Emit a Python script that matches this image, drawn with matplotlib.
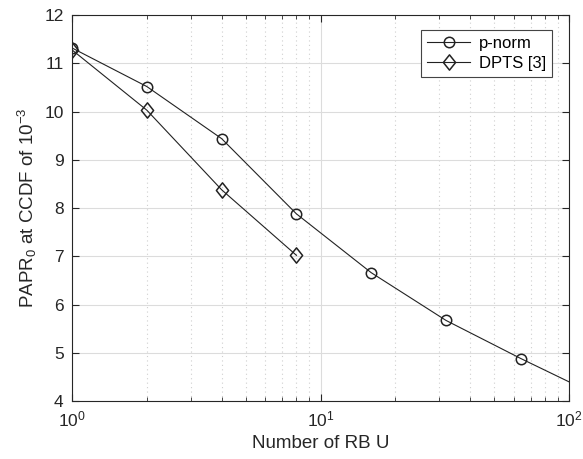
import matplotlib
matplotlib.use("Agg")
import matplotlib.pyplot as plt
from matplotlib.ticker import LogLocator, NullFormatter
from matplotlib.path import Path

plt.rcParams['font.family'] = ['Liberation Sans', 'DejaVu Sans']
plt.rcParams['mathtext.fontset'] = 'custom'
plt.rcParams['mathtext.rm'] = 'Liberation Sans'
plt.rcParams['mathtext.it'] = 'Liberation Sans'

pnorm_x = [1, 2, 4, 8, 16, 32, 64, 128]
pnorm_y = [11.32, 10.52, 9.44, 7.88, 6.66, 5.67, 4.88, 4.13]
dpts_x = [1, 2, 4, 8]
dpts_y = [11.28, 10.03, 8.38, 7.02]

diamond = Path([(0, 1), (0.8, 0), (0, -1), (-0.8, 0), (0, 1)],
               [Path.MOVETO, Path.LINETO, Path.LINETO, Path.LINETO, Path.CLOSEPOLY])

fig = plt.figure(figsize=(5.83, 4.59), dpi=100)
ax = fig.add_axes([0.1235, 0.1264, 0.8525, 0.8406])

ax.plot(pnorm_x, pnorm_y, '-o', color='#222222', lw=0.8, ms=7.5,
        mfc='none', mec='#222222', mew=1.1, label='p-norm', clip_on=True)
ax.plot(dpts_x, dpts_y, '-', marker=diamond, color='#222222', lw=0.8, ms=11,
        mfc='none', mec='#222222', mew=1.1, label='DPTS [3]')

ax.set_xscale('log')
ax.set_xlim(1, 100)
ax.set_ylim(4, 12)
ax.set_yticks(range(4, 13))
ax.xaxis.set_major_locator(LogLocator(base=10, numticks=5))
ax.xaxis.set_minor_locator(LogLocator(base=10, subs=range(2, 10), numticks=20))
ax.xaxis.set_minor_formatter(NullFormatter())

ax.grid(True, which='major', color='#dcdcdc', lw=0.8, ls='-')
ax.grid(True, which='minor', axis='x', color='#cfcfcf', lw=0.8, ls=(0, (1, 3)))
ax.set_axisbelow(True)

ax.tick_params(which='both', direction='in', top=True, right=True,
               labelsize=12.5, colors='#262626', pad=6)
ax.tick_params(which='major', length=5, width=0.8)
ax.tick_params(which='minor', length=3, width=0.6)
for s in ax.spines.values():
    s.set_color('#262626')
    s.set_linewidth(0.8)

ax.set_xlabel('Number of RB U', fontsize=13.5, color='#262626')
ax.set_ylabel(r'PAPR$_0$ at CCDF of 10$^{-3}$', fontsize=13.5, color='#262626')

leg = ax.legend(loc='upper right', fontsize=12, fancybox=False, framealpha=1,
                edgecolor='#444444', handlelength=2.6, borderpad=0.35,
                labelspacing=0.3, handletextpad=0.5,
                bbox_to_anchor=(0.982, 0.983))
leg.get_frame().set_linewidth(0.8)

fig.savefig('out.png', dpi=100)
